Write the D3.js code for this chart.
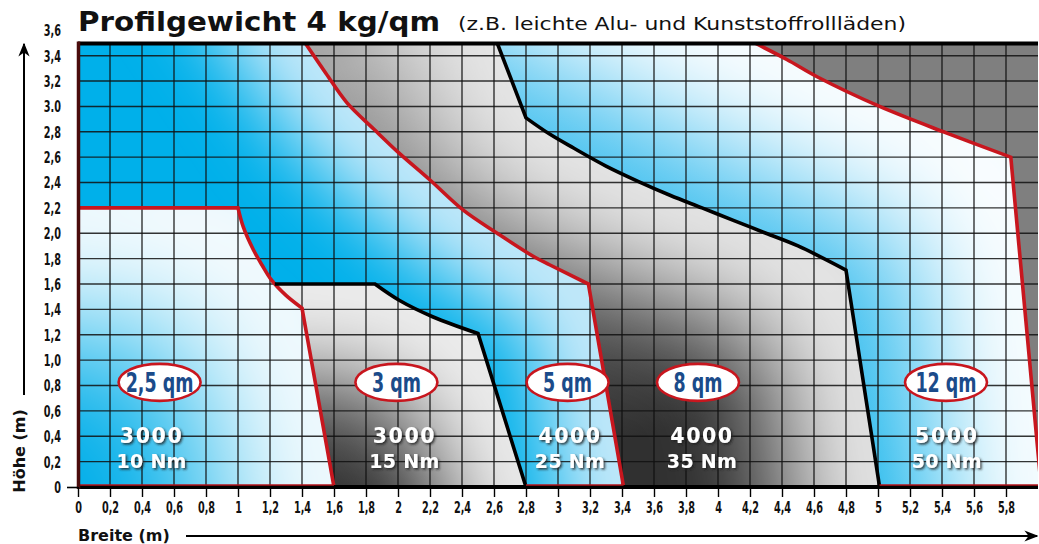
<!DOCTYPE html>
<html><head><meta charset="utf-8">
<script src="https://cdn.jsdelivr.net/npm/d3@7"></script>
<style>body{margin:0;background:#fff;} svg{display:block}</style>
</head><body><svg id="chart" width="1039" height="544"></svg>
<script>
// ---------- data ----------
const xTickValues = [0,0.2,0.4,0.6,0.8,1,1.2,1.4,1.6,1.8,2,2.2,2.4,2.6,2.8,3,3.2,3.4,3.6,3.8,4,4.2,4.4,4.6,4.8,5,5.2,5.4,5.6,5.8];
const xTickLabels = ["0","0,2","0,4","0,6","0,8","1","1,2","1,4","1,6","1,8","2","2,2","2,4","2,6","2,8","3","3,2","3,4","3,6","3,8","4","4,2","4,4","4,6","4,8","5","5,2","5,4","5,6","5,8"];
const yTickValues = [0,0.2,0.4,0.6,0.8,1.0,1.2,1.4,1.6,1.8,2.0,2.2,2.4,2.6,2.8,3.0,3.2,3.4,3.6];
const yTickLabels = ["0","0,2","0,4","0,6","0,8","1,0","1,2","1,4","1,6","1,8","2,0","2,2","2,4","2,6","2,8","3.0","3,2","3,4","3,6"];

// boundary curves (Breite m, Höhe m) and the indices of their sharp corners
const curveA = [[0,2.2],[1.0,2.2],[1.033,2.05],[1.096,1.87],[1.15,1.75],[1.21,1.63],[1.30,1.51],[1.40,1.41],[1.6,0]];
const cornersA = [0,1,7,8];
const curveB = [[1.23,1.6],[1.856,1.6],[2.01,1.47],[2.22,1.34],[2.50,1.21],[2.8,0]];
const cornersB = [0,1,4,5];
const curveC = [[1.42,3.5],[1.55,3.26],[1.68,3.03],[1.85,2.82],[2.0,2.64],[2.2,2.42],[2.41,2.18],[2.62,2.0],[2.85,1.815],[2.95,1.75],[3.19,1.6],[3.41,0]];
const cornersC = [0,10,11];
const curveD = [[2.62,3.5],[2.8,2.91],[2.95,2.78],[3.1,2.67],[3.3,2.53],[3.5,2.41],[3.7,2.3],[3.9,2.2],[4.1,2.1],[4.3,2.0],[4.5,1.9],[4.8,1.71],[5.01,0]];
const cornersD = [0,1,11,12];
const curveE = [[4.23,3.5],[4.43,3.37],[4.625,3.23],[5.01,3.0],[5.43,2.79],[5.83,2.6],[6.02,0]];
const cornersE = [0,5,6];

// labels
const qmLabels = ["2,5 qm","3 qm","5 qm","8 qm","12 qm"];
const qmX = [0.51,1.99,3.06,3.875,5.425];
const qmY = 0.825;
const forceLabels = ["3000","3000","4000","4000","5000"];
const torqueLabels = ["10 Nm","15 Nm","25 Nm","35 Nm","50 Nm"];
const valueX = [0.46,2.04,3.075,3.9,5.43];
const forceY = 0.35;
const torqueY = 0.15;

const titleBold = "Profilgewicht 4 kg/qm";
const titleRest = "(z.B. leichte Alu- und Kunststoffrollläden)";
const xTitle = "Breite (m)";
const yTitle = "Höhe (m)";

// ---------- setup ----------
const W = 1039, H = 544;
const svg = d3.select("#chart");
const defs = svg.append("defs");
const x = d3.scaleLinear().domain([0,6]).range([78,1038]);
const y = d3.scaleLinear().domain([0,3.5]).range([487,43]);
const [x0,x1] = x.domain(), [y0,y1] = y.domain();
const line = d3.line().x(d=>x(d[0])).y(d=>y(d[1]));
const smooth = d3.line().x(d=>x(d[0])).y(d=>y(d[1])).curve(d3.curveCatmullRom.alpha(0.5));
const cont = p => "L" + p.slice(1);

function curvePath(pts, corners){
  let s = "";
  for (let k=0;k<corners.length-1;k++){
    const seg = pts.slice(corners[k], corners[k+1]+1);
    const p = (seg.length>2 ? smooth : line)(seg);
    s += (k>0 ? cont(p) : p);
  }
  return s;
}

const condensed = "'DejaVu Sans Condensed','DejaVu Sans',sans-serif";

defs.append("clipPath").attr("id","plotclip").append("rect")
  .attr("x",x(x0)).attr("y",y(y1)).attr("width",x(x1)-x(x0)).attr("height",y(y0)-y(y1));

const plot = svg.append("g").attr("clip-path","url(#plotclip)");

function extendPx(pts, d){
  const p = pts.map(q=>[x(q[0]),y(q[1])]);
  const ext = (a,b)=>{ const dx=a[0]-b[0], dy=a[1]-b[1], L=Math.hypot(dx,dy)||1; return [a[0]+dx/L*d, a[1]+dy/L*d]; };
  return [ext(p[0],p[1])].concat(p,[ext(p[p.length-1],p[p.length-2])]);
}

let gid = 0;
function band(d, outer, base, light, half, sigma){
  const id = "b"+(gid++);
  defs.append("clipPath").attr("id","clip-"+id).append("path").attr("d",d);
  const g = plot.append("g");
  let fill = base;
  if (Array.isArray(base)) {
    const lg = defs.append("linearGradient").attr("id","lg-"+id)
      .attr("gradientUnits","userSpaceOnUse")
      .attr("x1",x(base[2])).attr("x2",x(base[4])).attr("y1",y(base[3])).attr("y2",y(base[5]));
    lg.append("stop").attr("offset",0).attr("stop-color",base[0]);
    lg.append("stop").attr("offset",1).attr("stop-color",base[1]);
    fill = `url(#lg-${id})`;
  }
  g.append("path").attr("d",d).attr("fill",fill);
  if (outer) {
    defs.append("filter").attr("id","f-"+id).attr("filterUnits","userSpaceOnUse")
      .attr("x",-300).attr("y",-300).attr("width",W+600).attr("height",H+600)
      .append("feGaussianBlur").attr("stdDeviation",sigma);
    const ep = extendPx(outer, 300);
    g.append("g").attr("clip-path",`url(#clip-${id})`)
      .append("path").attr("d", d3.line()(ep))
      .attr("fill","none").attr("stroke",light).attr("stroke-width",half*2)
      .attr("stroke-linejoin","round")
      .attr("filter",`url(#f-${id})`);
  }
}

const TL = [x0,y1], BL = [x0,y0];
const pathA = curvePath(curveA, cornersA), pathB = curvePath(curveB, cornersB),
      pathC = curvePath(curveC, cornersC), pathD = curvePath(curveD, cornersD),
      pathE = curvePath(curveE, cornersE);
const edge = line([BL,TL]);

// area 6: flat gray
band(line([BL,TL,[x1,y1],[x1,y0]])+"Z", null, "#7f7f7f");
// area 5: blue under E
band(edge+cont(pathE)+"Z", curveE, ["#00afea","#6ccbf2",3,0,4.2,3.5], "#fdfeff", 105, 58);
// area 4: gray under D
band(edge+cont(pathD)+"Z", curveD, ["#303030","#a2a2a2",3,0.2,2.2,3.5], "#e8e8e8", 95, 52);
// area 3: blue under C
band(edge+cont(pathC)+"Z", curveC, "#00b0ea", "#c8eafa", 65, 38);
// area 2: gray between A and B
const aLow = curveA.filter(p=>p[1] < curveB[0][1]).reverse();
band(pathB+cont(line(aLow))+"Z", curveB, ["#363636","#808080",1.5,0,1.4,1.6], "#efefef", 85, 46);
// area 1: light blue under A
band(line([BL])+cont(pathA)+"Z", curveA, "#00aee9", "#f8fcfe", 125, 68);

// ---------- grid ----------
const grid = svg.append("g").attr("stroke","#111").attr("stroke-width",1.4).attr("stroke-opacity",0.85);
grid.selectAll(".vx").data(xTickValues.filter(v=>v>x0)).join("line")
  .attr("x1",d=>x(d)).attr("x2",d=>x(d)).attr("y1",y(y1)).attr("y2",y(y0));
grid.selectAll(".hy").data(yTickValues.filter(v=>v>y0 && v<y1)).join("line")
  .attr("x1",x(x0)).attr("x2",x(x1)).attr("y1",d=>y(d)).attr("y2",d=>y(d));

// ---------- boundary lines ----------
const bl = svg.append("g").attr("clip-path","url(#plotclip)").attr("fill","none")
  .attr("stroke-width",3.6).attr("stroke-linejoin","miter");
[[pathA,"#c8161e"],[pathC,"#c8161e"],[pathE,"#c8161e"],[pathB,"#000"],[pathD,"#000"]]
  .forEach(([p,col])=>bl.append("path").attr("d",p).attr("stroke",col));

// ---------- frame ----------
const fr = svg.append("g");
fr.append("line").attr("x1",x(x0)).attr("x2",x(x1)).attr("y1",y(y0)).attr("y2",y(y0))
  .attr("stroke","#000").attr("stroke-width",4);
[[x0, curveA[curveA.length-1][0]],[curveB[curveB.length-1][0], curveC[curveC.length-1][0]],[curveD[curveD.length-1][0], x1]]
  .forEach(([a,b])=>fr.append("line").attr("x1",x(a)).attr("x2",x(b)).attr("y1",y(y0)-2).attr("y2",y(y0)-2)
    .attr("stroke","#b3141b").attr("stroke-width",1.6));
fr.append("line").attr("x1",x(x0)).attr("x2",x(x1)).attr("y1",y(y1)+0.5).attr("y2",y(y1)+0.5)
  .attr("stroke","#000").attr("stroke-width",4);
fr.append("line").attr("x1",x(x0)+0.5).attr("x2",x(x0)+0.5).attr("y1",y(y1)-1.5).attr("y2",y(y0)+2)
  .attr("stroke","#4a0c0c").attr("stroke-width",3.5);

// ---------- axes ----------
const xa = svg.append("g").attr("transform",`translate(0,${y(y0)})`)
  .call(d3.axisBottom(x).tickValues(xTickValues).tickFormat((d,i)=>xTickLabels[i]).tickSize(10));
xa.select(".domain").remove();
xa.selectAll(".tick line").attr("stroke","#000").attr("stroke-width",1.4);
xa.selectAll(".tick text").attr("y",0).attr("dy",0)
  .attr("transform","translate(0,26) scale(0.72,1)")
  .style("font-family",condensed).style("font-stretch","condensed").style("font-weight","bold")
  .style("font-size","15px").attr("fill","#111");

const ya = svg.append("g").attr("transform",`translate(${x(x0)},0)`)
  .call(d3.axisLeft(y).tickValues(yTickValues).tickFormat((d,i)=>yTickLabels[i]).tickSize(0));
ya.select(".domain").remove();
ya.selectAll(".tick line").attr("x2",d=>d===y0?-11:0).attr("stroke","#000").attr("stroke-width",1.6);
ya.selectAll(".tick text").attr("x",0).attr("dy","0.36em")
  .attr("transform","translate(-17,0) scale(0.72,1)")
  .style("font-family",condensed).style("font-stretch","condensed").style("font-weight","bold")
  .style("font-size","15px").attr("fill","#111");

// ---------- in-plot labels ----------
const sh = defs.append("filter").attr("id","shadow").attr("x","-20%").attr("y","-30%").attr("width","150%").attr("height","170%");
sh.append("feDropShadow").attr("dx",1.6).attr("dy",1.6).attr("stdDeviation",0.9)
  .attr("flood-color","#222").attr("flood-opacity",0.85);

const lab = svg.append("g");
const qg = lab.selectAll(".qm").data(qmLabels).join("g")
  .attr("transform",(d,i)=>`translate(${x(qmX[i])},${y(qmY)})`);
qg.append("ellipse").attr("rx",41).attr("ry",18.5).attr("fill","#fff")
  .attr("stroke","#c8161e").attr("stroke-width",2.6);
qg.append("text").text(d=>d).attr("text-anchor","middle")
  .attr("transform","translate(0,9.5) scale(0.72,1)")
  .style("font-family",condensed).style("font-stretch","condensed").style("font-weight","bold")
  .style("font-size","27px").attr("fill","#1b4b8a");

lab.selectAll(".force").data(forceLabels).join("text").text(d=>d)
  .attr("x",(d,i)=>x(valueX[i])).attr("y",y(forceY)).attr("text-anchor","middle")
  .style("font-family","'DejaVu Sans',sans-serif").style("font-weight","bold").style("font-size","20.5px")
  .style("letter-spacing","1.6px").attr("fill","#fff").attr("filter","url(#shadow)");
lab.selectAll(".torque").data(torqueLabels).join("text").text(d=>d)
  .attr("x",(d,i)=>x(valueX[i])).attr("y",y(torqueY)).attr("text-anchor","middle")
  .style("font-family","'DejaVu Sans',sans-serif").style("font-weight","bold").style("font-size","19px")
  .style("letter-spacing","0.3px").attr("fill","#fff").attr("filter","url(#shadow)");

// ---------- titles ----------
svg.append("text").text(titleBold).attr("x",78).attr("y",31)
  .attr("textLength",362).attr("lengthAdjust","spacingAndGlyphs")
  .style("font-family","'DejaVu Sans',sans-serif").style("font-weight","bold").style("font-size","27px").attr("fill","#111");
svg.append("text").text(titleRest).attr("x",458).attr("y",30)
  .attr("textLength",448).attr("lengthAdjust","spacingAndGlyphs")
  .style("font-family","'DejaVu Sans',sans-serif").style("font-size","18px").attr("fill","#111");

svg.append("text").text(xTitle).attr("x",78).attr("y",541)
  .style("font-family","'DejaVu Sans',sans-serif").style("font-weight","bold").style("font-size","16px").attr("fill","#111");
svg.append("text").text(yTitle).attr("transform","translate(25,451) rotate(-90)").attr("text-anchor","middle")
  .style("font-family","'DejaVu Sans',sans-serif").style("font-weight","bold").style("font-size","16px").attr("fill","#111");

// arrows
const mk = defs.append("marker").attr("id","arrow").attr("viewBox","0 0 10 10").attr("refX",9).attr("refY",5)
  .attr("markerWidth",7).attr("markerHeight",7).attr("markerUnits","strokeWidth").attr("orient","auto");
mk.append("path").attr("d","M0,1 L10,5 L0,9 L3,5 Z").attr("fill","#000");
svg.append("line").attr("x1",24).attr("x2",24).attr("y1",395).attr("y2",44)
  .attr("stroke","#000").attr("stroke-width",2).attr("marker-end","url(#arrow)");
svg.append("line").attr("x1",186).attr("x2",1037).attr("y1",536).attr("y2",536)
  .attr("stroke","#000").attr("stroke-width",2).attr("marker-end","url(#arrow)");
</script></body></html>
